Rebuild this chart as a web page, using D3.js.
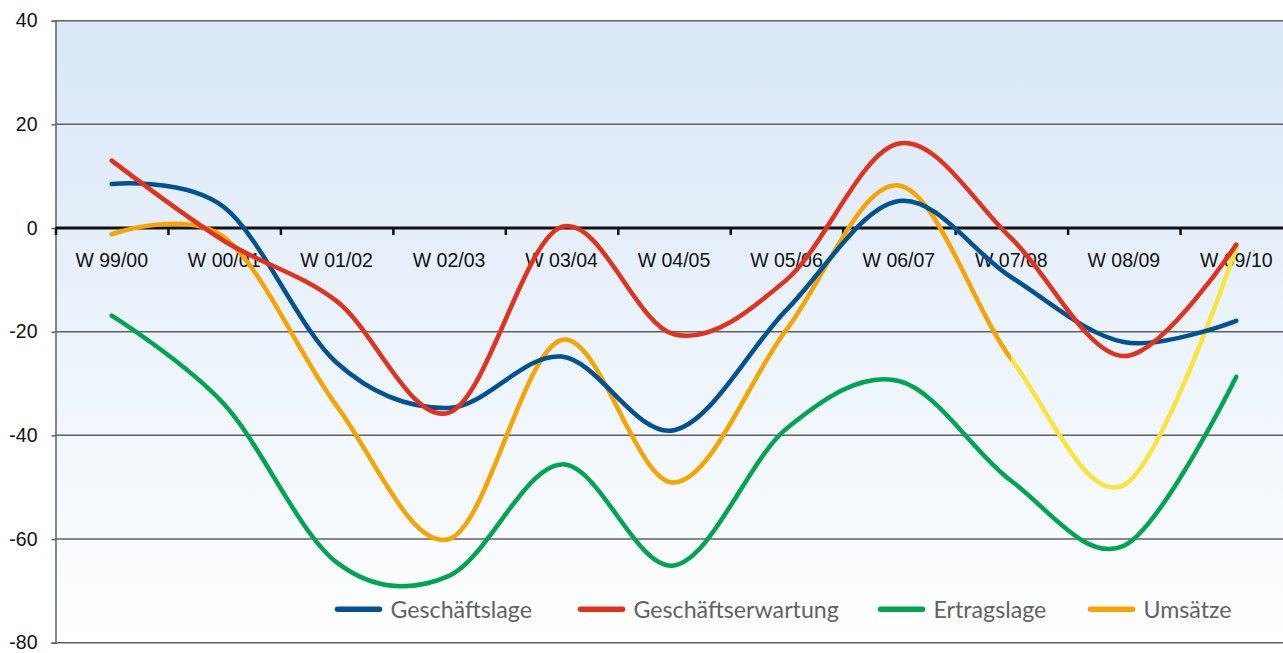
<!DOCTYPE html>
<html><head><meta charset="utf-8">
<script src="https://cdn.jsdelivr.net/npm/d3@7"></script>
<style>html,body{margin:0;padding:0;background:#fff;}svg{display:block;}</style>
</head><body>
<svg id="chart" width="1283" height="653"></svg>
<script>
const categories = ["W 99/00","W 00/01","W 01/02","W 02/03","W 03/04","W 04/05","W 05/06","W 06/07","W 07/08","W 08/09","W 09/10"];
const geschaeftslage = [8.5, 4, -26, -34.7, -24.8, -39, -15.8, 5.2, -9.5, -22, -17.9];
const geschaeftserwartung = [13, -2.5, -14.1, -35.6, 0.2, -20.5, -10, 16.3, -2, -24.7, -3.2];
const ertragslage = [-16.9, -34, -64.5, -67.1, -45.6, -65.1, -38.7, -29.5, -48.8, -61.3, -28.7];
const umsaetze = [-1.2, -1.8, -34.3, -60, -21.6, -49.1, -19.6, 8.2, -25.3, -49.6, -3.8];
const yTicks = [40, 20, 0, -20, -40, -60, -80];
const seriesNames = ["Geschäftslage", "Geschäftserwartung", "Ertragslage", "Umsätze"];
const seriesColors = ["#005293", "#e2311d", "#00a551", "#f7a300"];
const umsaetzeLateColor = "#fbe43a";
const umsaetzeLateFrom = "W 07/08";

(function(){
const svg = d3.select("#chart");
const mLeft = 55.5, mRight = 1292.5, mTop = 20.7, mBottom = 642.7;
const x = d3.scaleBand().domain(categories).range([mLeft, mRight]).padding(0);
const y = d3.scaleLinear().domain([-80, 40]).range([mBottom, mTop]);
const cx = c => x(c) + x.bandwidth() / 2;

const defs = svg.append("defs");
const grad = defs.append("linearGradient").attr("id", "bg").attr("x1", 0).attr("y1", 0).attr("x2", 0).attr("y2", 1);
grad.append("stop").attr("offset", "0%").attr("stop-color", "#d9e7f6");
grad.append("stop").attr("offset", "55%").attr("stop-color", "#edf4fc");
grad.append("stop").attr("offset", "100%").attr("stop-color", "#ffffff");

svg.append("rect").attr("x", mLeft).attr("y", y(40)).attr("width", mRight - mLeft).attr("height", y(-80) - y(40)).attr("fill", "url(#bg)");

svg.append("g").selectAll("line").data(yTicks.filter(d => d !== 0)).join("line")
  .attr("x1", mLeft).attr("x2", mRight).attr("y1", d => y(d)).attr("y2", d => y(d))
  .attr("stroke", "#606060").attr("stroke-width", 1.5);

const yAxis = d3.axisLeft(y).tickValues(yTicks).tickSize(4).tickPadding(14).tickFormat(d => String(d));
const gy = svg.append("g").attr("transform", `translate(${mLeft},0)`).call(yAxis);
gy.select(".domain").attr("stroke", "#606060").attr("stroke-width", 1.5);
gy.selectAll(".tick line").attr("stroke", "#606060").attr("stroke-width", 1.5);
gy.selectAll("text").attr("font-family", "Liberation Sans, Arial, sans-serif").attr("font-size", 19.5).attr("fill", "#111");

const bounds = categories.map(c => x(c)).concat([mRight]);
svg.append("line").attr("x1", mLeft).attr("x2", mRight).attr("y1", y(0)).attr("y2", y(0)).attr("stroke", "#111").attr("stroke-width", 3);
svg.append("g").selectAll("line").data(bounds).join("line")
  .attr("x1", d => d + 0.5).attr("x2", d => d + 0.5).attr("y1", y(0)).attr("y2", y(0) + 7)
  .attr("stroke", "#111").attr("stroke-width", 2.5);
svg.append("g").selectAll("text").data(categories).join("text")
  .attr("x", d => cx(d)).attr("y", y(0) + 39).attr("text-anchor", "middle")
  .attr("font-family", "Liberation Sans, Arial, sans-serif").attr("font-size", 19.5).attr("fill", "#111")
  .text(d => d);

const line = d3.line().x((d, i) => cx(categories[i])).y(d => y(d)).curve(d3.curveCardinal.tension(0));

const clipX = cx(umsaetzeLateFrom);
defs.append("clipPath").attr("id", "clipEarly").append("rect").attr("x", 0).attr("y", 0).attr("width", clipX).attr("height", 653);
defs.append("clipPath").attr("id", "clipLate").append("rect").attr("x", clipX).attr("y", 0).attr("width", 1283 - clipX).attr("height", 653);

const gl = svg.append("g").attr("fill", "none").attr("stroke-width", 4.5).attr("stroke-linecap", "round").attr("stroke-linejoin", "round");
gl.append("path").attr("d", line(ertragslage)).attr("stroke", seriesColors[2]);
gl.append("path").attr("d", line(umsaetze)).attr("stroke", seriesColors[3]).attr("clip-path", "url(#clipEarly)");
gl.append("path").attr("d", line(umsaetze)).attr("stroke", umsaetzeLateColor).attr("clip-path", "url(#clipLate)");
gl.append("path").attr("d", line(geschaeftslage)).attr("stroke", seriesColors[0]);
gl.append("path").attr("d", line(geschaeftserwartung)).attr("stroke", seriesColors[1]);

const legendX = [337.5, 580.5, 880.5, 1090.5];
const lg = svg.append("g");
seriesNames.forEach((n, i) => {
  lg.append("line").attr("x1", legendX[i]).attr("x2", legendX[i] + 42).attr("y1", 609.3).attr("y2", 609.3)
    .attr("stroke", seriesColors[i]).attr("stroke-width", 5.5).attr("stroke-linecap", "round");
  lg.append("text").attr("x", legendX[i] + 53).attr("y", 617.5)
    .attr("font-family", "Lato, sans-serif").attr("font-size", 23.2).attr("fill", "#616161").text(n);
});
})();
</script>
</body></html>
